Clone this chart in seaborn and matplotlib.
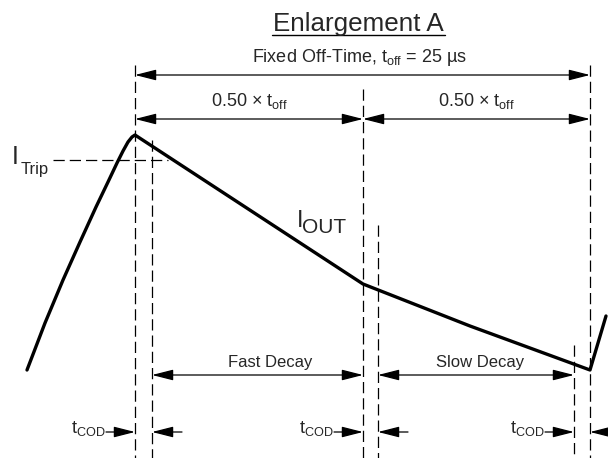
import matplotlib
matplotlib.use("Agg")
import matplotlib.pyplot as plt
import seaborn as sns
import pandas as pd

sns.set_style("white")
plt.rcParams['font.family'] = ['Liberation Sans', 'DejaVu Sans']
plt.rcParams['mathtext.fontset'] = 'custom'
plt.rcParams['mathtext.rm'] = 'Liberation Sans'
plt.rcParams['mathtext.it'] = 'Liberation Sans:italic'

# ---- data (diagram coordinates, pixel-like units) ----
rise_x = [27, 45, 63, 80, 96, 108, 117, 123, 128, 132, 135]
rise_y = [370, 323, 280, 242, 207, 182, 163, 151, 142, 137, 135]
decay_x = [135, 363, 470, 590, 606]
decay_y = [135, 284, 326, 370, 316]

# vertical dashed markers: x position, top y
vline_x = [135, 152, 363, 378, 574, 590]
vline_top = [65, 140, 89, 225, 345, 65]
trip_level = 160

# dimension arrows: (x0, x1, y)
dim_x0 = [135, 135, 363, 152, 378]
dim_x1 = [590, 363, 590, 363, 574]
dim_y = [75, 119, 119, 375, 375]

cod_right_tips = [135, 363, 574]
cod_left_tips = [152, 378, 590]
cod_y = 432

title = "Enlargement A"
offtime_label = r"Fixed Off-Time, t$_{\mathrm{off}}$ = 25 µs"
half_label = r"0.50 × t$_{\mathrm{off}}$"
fast_label = "Fast Decay"
slow_label = "Slow Decay"
cod_label = r"t$_{\mathrm{COD}}$"

fig = plt.figure(figsize=(6.08, 4.58), dpi=100)
ax = fig.add_axes([0, 0, 1, 1])
ax.set_xlim(0, 608)
ax.set_ylim(458, 0)
ax.axis('off')

curve = pd.DataFrame({"x": rise_x + decay_x[1:], "y": rise_y + decay_y[1:]})
sns.lineplot(data=curve, x="x", y="y", sort=False, color="black", lw=2.4,
             ax=ax, estimator=None)

dash = (0, (9, 4))
for x, top in zip(vline_x, vline_top):
    ax.plot([x, x], [top, 458], color="black", lw=0.9, linestyle=dash)
ax.plot([53, 168], [trip_level, trip_level], color="black", lw=0.9, linestyle=dash)

astyle = "<|-|>,head_length=1.3,head_width=0.33"
for x0, x1, y in zip(dim_x0, dim_x1, dim_y):
    ax.annotate("", xy=(x1, y), xytext=(x0, y),
                arrowprops=dict(arrowstyle=astyle, color="black", lw=0.9,
                                shrinkA=0, shrinkB=0, mutation_scale=10))

sstyle = "-|>,head_length=1.3,head_width=0.33"
for xr, xl in zip(cod_right_tips, cod_left_tips):
    ax.annotate("", xy=(xr, cod_y), xytext=(xr - 29, cod_y),
                arrowprops=dict(arrowstyle=sstyle, color="black", lw=0.9,
                                shrinkA=0, shrinkB=0, mutation_scale=10))
    ax.annotate("", xy=(xl, cod_y), xytext=(min(xl + 30, 612), cod_y),
                arrowprops=dict(arrowstyle=sstyle, color="black", lw=0.9,
                                shrinkA=0, shrinkB=0, mutation_scale=10))
    ax.text(xr - 29, cod_y + 1, cod_label, fontsize=13, ha="right", va="baseline")

# Text labels
ax.text(358, 31, title, fontsize=18.7, ha="center", va="baseline")
ax.plot([272, 445], [35, 35], color="black", lw=1.0)
ax.text(359, 62, offtime_label, fontsize=13, ha="center", va="baseline")
ax.text(249, 106, half_label, fontsize=13, ha="center", va="baseline")
ax.text(476, 106, half_label, fontsize=13, ha="center", va="baseline")
ax.text(270, 367, fast_label, fontsize=12, ha="center", va="baseline")
ax.text(480, 367, slow_label, fontsize=12, ha="center", va="baseline")

# I_Trip and I_OUT
ax.text(12, 164, "I", fontsize=18, ha="left", va="baseline")
ax.text(21, 174, "Trip", fontsize=12, ha="left", va="baseline")
ax.text(297, 227, "I", fontsize=17, ha="left", va="baseline")
ax.text(302, 233, "OUT", fontsize=15, ha="left", va="baseline")

fig.savefig("out.png", dpi=100)
